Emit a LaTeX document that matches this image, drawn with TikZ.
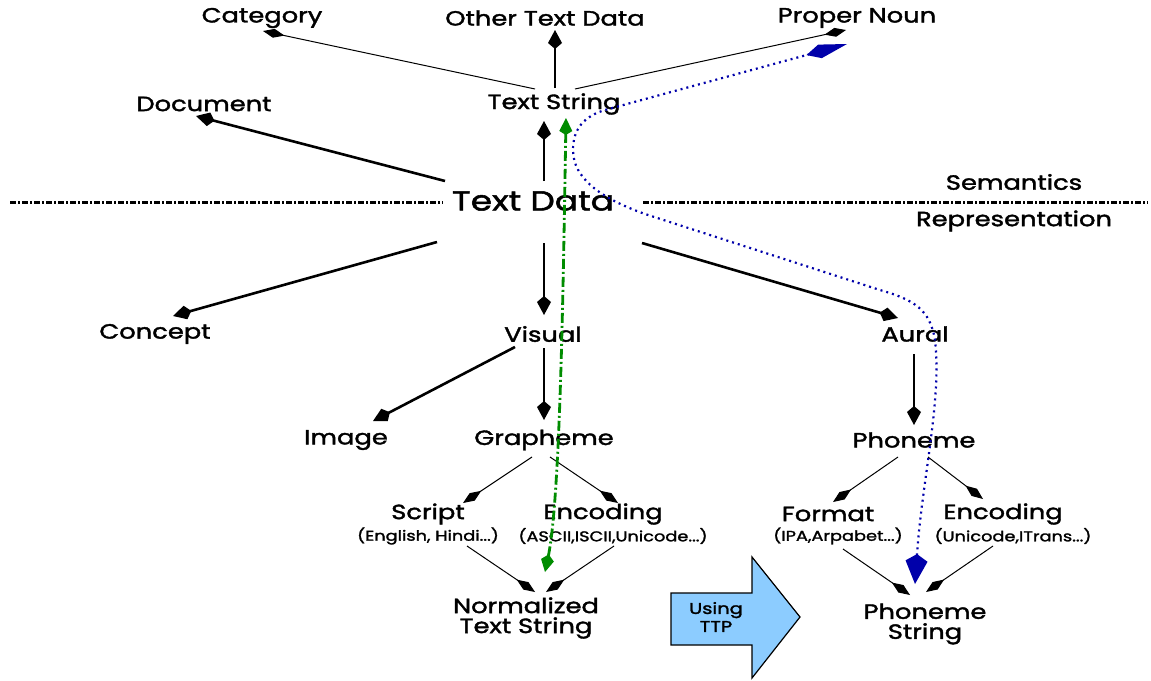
\documentclass[tikz,border=0pt]{standalone}
\usepackage{fontspec}
\setmainfont{Poppins}[FakeStretch=1.25, FakeBold=1.8]
\usetikzlibrary{arrows.meta,calc}

\definecolor{ttpblue}{RGB}{140,204,255}
\definecolor{pathblue}{RGB}{0,0,170}
\definecolor{pathgreen}{RGB}{0,140,0}

\tikzset{
  lbl/.style={inner sep=0pt, font=\fontsize{10.3}{12}\selectfont},
  big/.style={inner sep=0pt, font=\fontsize{13.8}{16}\selectfont},
  sub/.style={inner sep=0pt, font=\fontsize{7.1}{8}\selectfont},
  thin/.style={line width=0.5pt, -{Kite[length=11pt,width=4.5pt,inset=5.5pt]}},
  thick/.style={line width=1.3pt, -{Kite[length=9.5pt,width=7pt,inset=3pt]}},
  divider/.style={line width=1.5pt, dash pattern=on 3pt off 1pt on 1pt off 1pt},
}

\begin{document}
\begin{tikzpicture}[x=0.5pt,y=-0.5pt]
\useasboundingbox (0,0) rectangle (1151,680);

% upper layer
\node[lbl] (cat) at (262,18) {Category};
\node[lbl] (otd) at (545,18) {Other Text Data};
\node[lbl] (pn)  at (857,18) {Proper Noun};
\node[lbl] (doc) at (204,104) {Document};
\node[lbl] (ts)  at (554,104) {Text String};

% central node and the semantics / representation divider
\node[big] (td) at (533,201) {Text Data};
\node[lbl] (sem) at (1014,182) {Semantics};
\node[lbl] (rep) at (1014,221) {Representation};
\coordinate (divL) at (10,202);
\coordinate (divR) at (1148,202);
\draw[divider] (divL) -- ($(td)+(-90,1)$);
\draw[divider] ($(td)+(110,1)$) -- (divR);

% representation layer
\node[lbl] (con) at (155,334) {Concept};
\node[lbl] (vis) at (543,334) {Visual};
\node[lbl] (aur) at (915,334) {Aural};
\node[lbl] (img) at (346,440) {Image};
\node[lbl] (gra) at (544,440) {Grapheme};
\node[lbl] (pho) at (914,440) {Phoneme};

\node[lbl] (scr)   at (428,514) {Script};
\node[sub] (scrs)  at (428,536) {(English, Hindi...)};
\node[lbl] (enc)   at (603,514) {Encoding};
\node[sub] (encs)  at (613,536) {(ASCII,ISCII,Unicode...)};
\node[lbl, align=center, font=\fontsize{10.3}{10}\selectfont] (nts) at (526,618) {Normalized\\Text String};

\node[lbl] (fmt)   at (828,514) {Format};
\node[sub] (fmts)  at (838,536) {(IPA,Arpabet...)};
\node[lbl] (enc2)  at (1003,514) {Encoding};
\node[sub] (enc2s) at (1013,536) {(Unicode,ITrans...)};
\node[lbl, align=center, font=\fontsize{10.3}{10}\selectfont] (ps) at (925,624) {Phoneme\\String};

% block arrow
\draw[fill=ttpblue, line width=0.6pt]
  (671,593) -- (752,593) -- (752,557) -- (800,617) -- (752,678) -- (752,645) -- (671,645) -- cycle;
\node[sub, align=center, font=\fontsize{7.8}{9}\selectfont] (ttp) at (716,617) {Using\\TTP};

% connectors around Text String
\draw[thin]  ($(ts)+(-19,-15)$) -- ($(cat)+(1,13)$);
\draw[thick] ($(ts)+(1,-16)$)   -- ($(otd)+(10,12)$);
\draw[thin]  ($(ts)+(21,-15)$)  -- ($(pn)+(-11,12)$);

% connectors from Text Data
\draw[thick] ($(td)+(-88,-20)$) -- ($(doc)+(-8,12)$);
\draw[thick] ($(td)+(11,-20)$)  -- ($(ts)+(-10,17)$);
\draw[thick] ($(td)+(-96,41)$)  -- ($(con)+(18,-18)$);
\draw[thick] ($(td)+(11,42)$)   -- ($(vis)+(1,-19)$);
\draw[thick] ($(td)+(109,42)$)  -- ($(aur)+(-17,-16)$);

% visual branch
\draw[thick] ($(vis)+(-28,13)$) -- ($(img)+(27,-19)$);
\draw[thick] ($(vis)+(1,14)$)   -- ($(gra)+(0,-20)$);
\draw[thin]  ($(gra)+(-12,17)$) -- ($(scr)+(35,-11)$);
\draw[thin]  ($(gra)+(6,17)$)   -- ($(enc)+(15,-11)$);
\draw[thin]  ($(scrs)+(39,10)$) -- ($(nts)+(9,-26)$);
\draw[thin]  ($(encs)+(1,10)$)  -- ($(nts)+(20,-26)$);

% aural branch
\draw[thick] ($(aur)+(-1,20)$)   -- ($(pho)+(0,-15)$);
\draw[thin]  ($(pho)+(-16,17)$)  -- ($(fmt)+(5,-12)$);
\draw[thin]  ($(pho)+(14,17)$)   -- ($(enc2)+(-20,-15)$);
\draw[thin]  ($(fmts)+(5,13)$)   -- ($(ps)+(-15,-29)$);
\draw[thin]  ($(enc2s)+(-20,10)$) -- ($(ps)+(1,-32)$);

% normalization path
\draw[pathgreen, line width=1.4pt, dash pattern=on 5pt off 1.5pt on 1pt off 1.5pt,
      {Kite[length=9pt,width=6.5pt,inset=3pt]}-{Kite[length=8.5pt,width=6.5pt,inset=2pt]}]
  ($(nts)+(19,-46)$) .. controls (560,500) and (563,300) .. ($(ts)+(12,14)$);

% pronunciation path
\draw[pathblue, line width=1.1pt, dash pattern=on 1pt off 2pt,
      {Kite[length=15pt,width=11pt,inset=3.5pt]}-{Kite[length=21pt,width=7pt,inset=7pt]}]
  ($(ps)+(-10,-40)$) .. controls (922,480) and (942,400) .. (935,340)
  .. controls (930,310) and (915,300) .. (880,290)
  -- (645,214)
  .. controls (600,198) and (573,178) .. (573,150)
  .. controls (573,128) and (585,116) .. (605,110)
  -- ($(pn)+(-10,26)$);
\end{tikzpicture}
\end{document}
